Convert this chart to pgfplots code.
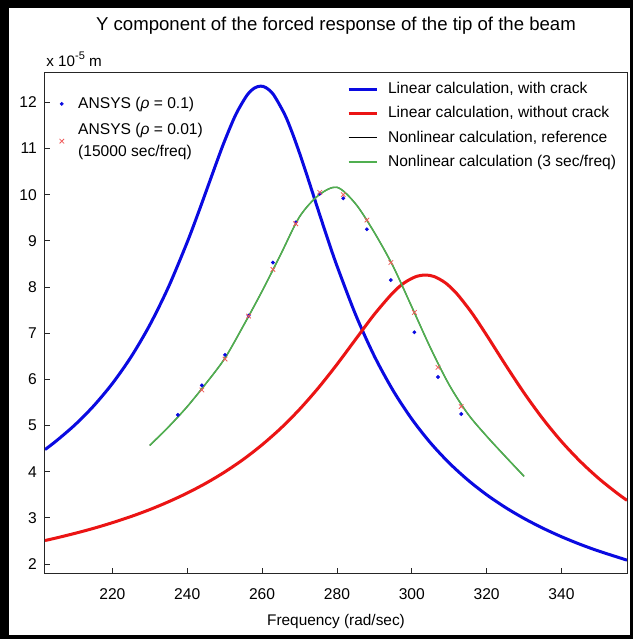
\documentclass[border=0pt]{standalone}
\usepackage{fontspec}
\setmainfont{Liberation Sans}
\usepackage{pgfplots}
\pgfplotsset{compat=1.18}

\definecolor{lincrack}{RGB}{10,10,225}
\definecolor{linnocrack}{RGB}{235,20,20}
\definecolor{nlgreen}{RGB}{80,175,80}
\definecolor{ansysred}{RGB}{240,90,90}

\begin{document}
\begin{tikzpicture}
% black frame of the screenshot
\fill[black] (0pt,0pt) rectangle (316.5pt,319.5pt);
\fill[white] (4.5pt,2pt) rectangle (315pt,315.5pt);

\begin{axis}[
    at={(22.5pt,32.85pt)}, anchor=south west,
    scale only axis,
    width=291pt, height=250.5pt,
    xmin=202, xmax=357.5,
    ymin=1.8, ymax=12.65,
    xtick={220,240,...,340},
    ytick={2,3,...,12},
    tick align=inside, tick pos=left,
    major tick length=2.5pt,
    axis line style={line width=0.5pt, black!85},
    tick style={line width=0.4pt, black!85},
    /pgf/number format/assume math mode=true,
    ticklabel style={font=\fontsize{7.8}{9}\selectfont},
    xticklabel style={yshift=-4pt},
    yticklabel style={xshift=-0.6pt},
    title={Y component of the forced response of the tip of the beam},
    title style={at={(axis description cs:0.5,1)}, anchor=center, yshift=17.5pt,
        font=\fontsize{9.3}{11}\selectfont},
    xlabel={Frequency (rad/sec)},
    xlabel style={at={(axis description cs:0.5,0)}, anchor=center, yshift=-24.2pt,
        font=\fontsize{7.7}{9}\selectfont},
    legend style={draw=none, fill=none, at={(axis description cs:0.508,0.997)},
        anchor=north west, font=\fontsize{7.8}{9}\selectfont, row sep=1.0pt},
    legend cell align=left,
    legend image code/.code={\draw[#1] (0pt,0pt) -- (14pt,0pt); \path (17pt,0pt);},
]
% linear calculation, with crack
\addplot[lincrack, line width=1.5pt, smooth, tension=0.5] coordinates {
(202,4.48) (205,4.666) (210,5.015) (215,5.425) (220,5.910) (225,6.487)
(230,7.178) (235,8.002) (240,8.971) (243,9.615) (245,10.061) (248,10.734)
(250,11.166) (253,11.739) (256,12.156) (258,12.311) (259.6,12.35)
(261,12.319) (263,12.172) (266,11.745) (268,11.353) (270,10.902) (272,10.417)
(275,9.665) (277.5,9.048) (280,8.460) (285,7.399) (290,6.503) (295,5.759)
(300,5.141) (305,4.624) (310,4.189) (315,3.819) (320,3.501) (325,3.227)
(330,2.988) (335,2.778) (340,2.592) (345,2.427) (350,2.280) (357.5,2.085)};
\addlegendentry{Linear calculation, with crack}
% linear calculation, without crack
\addplot[linnocrack, line width=1.5pt, smooth, tension=0.5] coordinates {
(202,2.510) (205,2.565) (210,2.665) (215,2.774) (220,2.896) (225,3.030)
(230,3.180) (235,3.349) (240,3.538) (245,3.751) (250,3.993) (255,4.268)
(260,4.583) (265,4.941) (270,5.350) (275,5.812) (280,6.323) (285,6.868)
(290,7.409) (295,7.880) (298,8.091) (301,8.222) (303.6,8.26) (306,8.226)
(309,8.089) (312,7.858) (316,7.444) (320,6.957) (325,6.319) (330,5.706)
(335,5.148) (340,4.654) (345,4.224) (350,3.850) (355,3.526) (357.5,3.38)};
\addlegendentry{Linear calculation, without crack}
% nonlinear, reference
\addplot[black, line width=0.5pt, smooth] coordinates {
(230,4.57) (235,4.97) (240,5.41) (245,5.91) (250,6.45) (255,7.16) (260,7.91)
(265,8.71) (270,9.52) (275,9.98) (280,10.16) (285,9.80) (290,9.18) (295,8.45)
(300,7.57) (305,6.68) (310,5.88) (315,5.25) (320,4.77) (325,4.33) (330,3.90)};
\addlegendentry{Nonlinear calculation, reference}
% nonlinear, 3 sec/freq
\addplot[nlgreen, line width=0.8pt, smooth] coordinates {
(230,4.57) (235,4.97) (240,5.41) (245,5.91) (250,6.45) (255,7.16) (260,7.91)
(265,8.71) (270,9.52) (275,9.98) (280,10.16) (285,9.80) (290,9.18) (295,8.45)
(300,7.57) (305,6.68) (310,5.88) (315,5.25) (320,4.77) (325,4.33) (330,3.90)};
\addlegendentry{Nonlinear calculation (3 sec/freq)}
\end{axis}

% ANSYS points, with their own legend on the left
\begin{axis}[
    at={(22.5pt,32.85pt)}, anchor=south west,
    scale only axis,
    width=291pt, height=250.5pt,
    xmin=202, xmax=357.5,
    ymin=1.8, ymax=12.65,
    hide axis,
    legend style={draw=none, fill=none, at={(axis description cs:0.0,0.968)},
        anchor=north west, font=\fontsize{7.8}{11}\selectfont, row sep=2pt,
        cells={align=left}},
    legend cell align=left,
    legend image code/.code={\path (-5pt,0pt) (6pt,0pt); \draw[#1] plot coordinates {(0pt,0pt)};},
]
\addplot[only marks, mark=*, mark size=0.75pt, lincrack] coordinates {
(237.5,5.23) (243.9,5.87) (250.1,6.53) (256.4,7.38) (262.9,8.53) (269.0,9.40)
(275.4,10.02) (281.7,9.92) (288.0,9.25) (294.4,8.15) (300.7,7.02) (307.0,6.05)
(313.2,5.25)};
\addlegendentry{ANSYS (\textit{ρ} = 0.1)}
\addplot[only marks, mark=x, mark size=1.6pt, ansysred, line width=0.4pt] coordinates {
(243.9,5.77) (250.1,6.44) (256.4,7.37) (262.9,8.38) (269.0,9.37) (275.4,10.05)
(281.7,10.00) (288.0,9.45) (294.4,8.53) (300.7,7.45) (307.0,6.26) (313.2,5.41)};
\addlegendentry{ANSYS (\textit{ρ} = 0.01)\\(15000 sec/freq)}
\end{axis}

\node[anchor=base west, inner sep=0pt, font=\fontsize{7.6}{9}\selectfont]
    at (23pt,286.2pt) {x 10\raisebox{0.45em}{\fontsize{5.5}{6}\selectfont -5} m};

\pgfresetboundingbox
\useasboundingbox (0pt,0pt) rectangle (316.5pt,319.5pt);
\end{tikzpicture}
\end{document}
